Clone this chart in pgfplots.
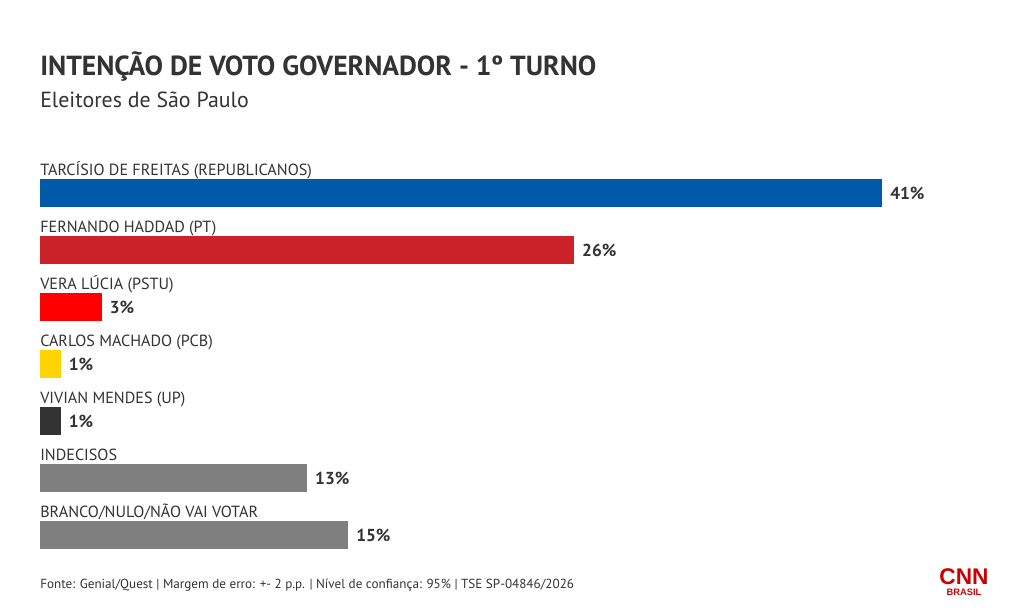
\documentclass[border=0pt]{standalone}
\usepackage{pgfplots}
\pgfplotsset{compat=1.18}
\usepackage{fontspec}
\setmainfont{PT Sans}
\newfontfamily\logofont{Liberation Sans}

\definecolor{txt}{HTML}{333333}
\definecolor{cblue}{HTML}{005AA9}
\definecolor{cred}{HTML}{CC2229}
\definecolor{cbright}{HTML}{FF0000}
\definecolor{cyellow}{HTML}{FFD400}
\definecolor{cdark}{HTML}{333333}
\definecolor{cgray}{HTML}{7F7F7F}
\definecolor{cnnred}{HTML}{CC0000}

\begin{document}
\begin{tikzpicture}[x=0.75pt,y=0.75pt,
  catlabel/.style={anchor=base west, inner sep=0, text=txt,
      font=\fontsize{12.1}{15}\selectfont, yshift=13.5pt}]
% canvas
\fill[white] (0,0) rectangle (1020,-610);

% title block
\node[anchor=base west, inner sep=0, text=txt,
      font=\bfseries\fontsize{20.7}{25}\selectfont] at (40,-75)
      {INTENÇÃO DE VOTO GOVERNADOR - 1º TURNO};
\node[anchor=base west, inner sep=0, text=txt,
      font=\fontsize{16.4}{19}\selectfont] at (40,-107)
      {Eleitores de São Paulo};

\begin{axis}[
  at={(30pt,-123.375pt)}, anchor=north west,
  scale only axis, width=631.5pt, height=299.25pt,
  xmin=0, xmax=41, ymin=-0.5, ymax=6.5,
  y dir=reverse,
  axis lines=none, ticks=none,
  xbar, bar width=21pt, bar shift=0pt,
  clip=false,
  point meta=x,
  /pgf/number format/assume math mode=true,
  nodes near coords={\pgfmathprintnumber{\pgfplotspointmeta}\%},
  nodes near coords style={anchor=west, inner sep=0pt, xshift=6pt,
     text=txt, font=\bfseries\fontsize{13}{15}\selectfont},
]
\addplot[fill=cblue, draw=none]   coordinates {(41,0)};
\addplot[fill=cred, draw=none]    coordinates {(26,1)};
\addplot[fill=cbright, draw=none] coordinates {(3,2)};
\addplot[fill=cyellow, draw=none] coordinates {(1,3)};
\addplot[fill=cdark, draw=none]   coordinates {(1,4)};
\addplot[fill=cgray, draw=none]   coordinates {(13,5)};
\addplot[fill=cgray, draw=none]   coordinates {(15,6)};

% category names above each bar
\node[catlabel] at (axis cs:0,0) {TARCÍSIO DE FREITAS (REPUBLICANOS)};
\node[catlabel] at (axis cs:0,1) {FERNANDO HADDAD (PT)};
\node[catlabel] at (axis cs:0,2) {VERA LÚCIA (PSTU)};
\node[catlabel] at (axis cs:0,3) {CARLOS MACHADO (PCB)};
\node[catlabel] at (axis cs:0,4) {VIVIAN MENDES (UP)};
\node[catlabel] at (axis cs:0,5) {INDECISOS};
\node[catlabel] at (axis cs:0,6) {BRANCO/NULO/NÃO VAI VOTAR};
\end{axis}

% source line
\node[anchor=base west, inner sep=0, text=txt,
      font=\fontsize{9.85}{12}\selectfont] at (40,-588)
      {Fonte: Genial/Quest | Margem de erro: +- 2 p.p. | Nível de confiança: 95\% | TSE SP-04846/2026};

% logo
\node[anchor=base, inner sep=0, text=cnnred,
      font=\logofont\bfseries\fontsize{17}{17}\selectfont] at (964,-584) {CNN};
\node[anchor=base, inner sep=0, text=cnnred,
      font=\logofont\bfseries\fontsize{7}{8}\selectfont] at (964,-595) {BRASIL};
\end{tikzpicture}
\end{document}
